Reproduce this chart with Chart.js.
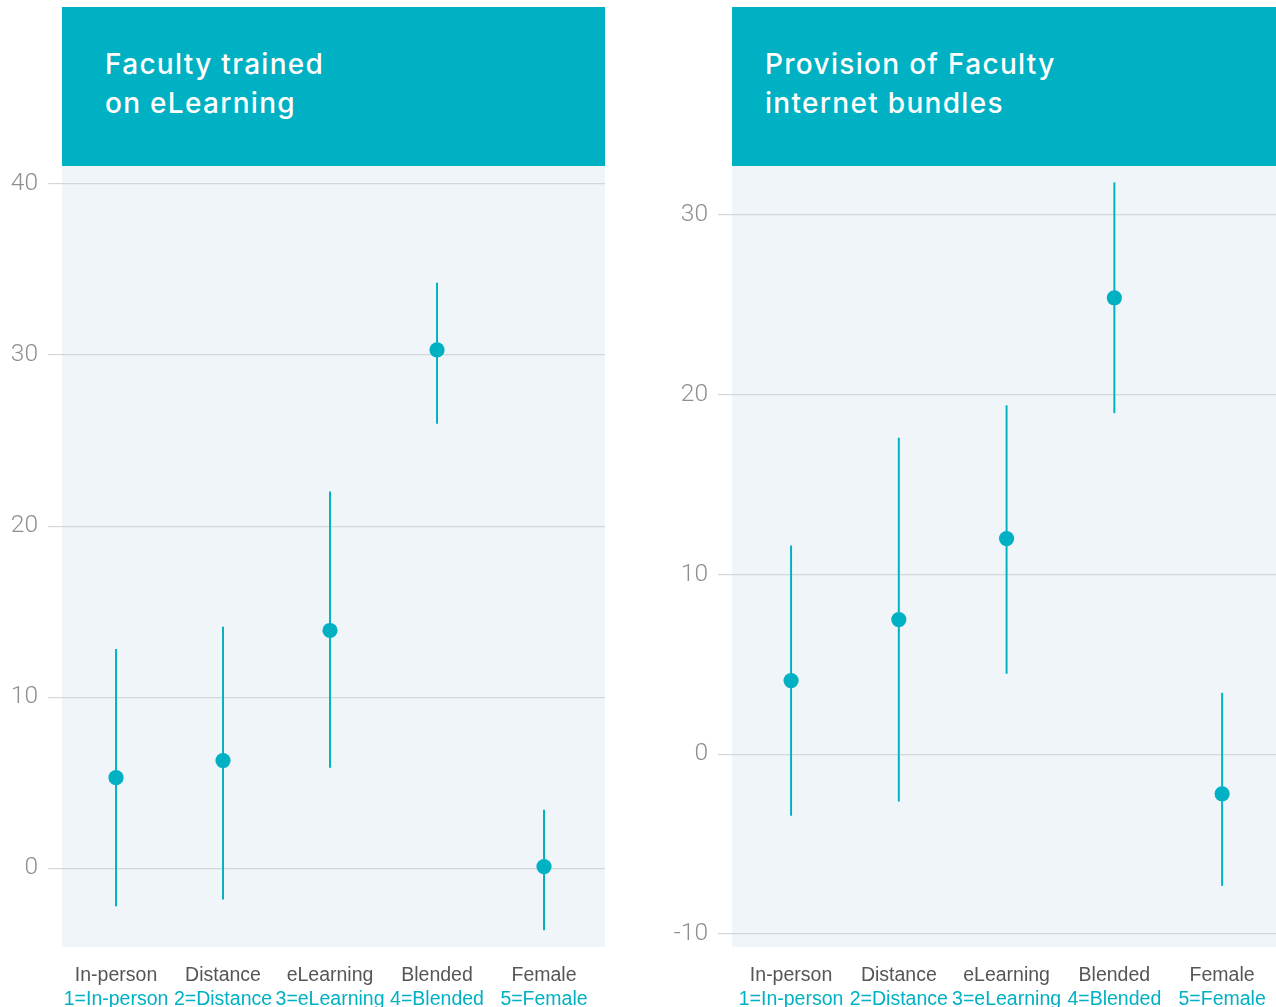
<!DOCTYPE html>
<html>
<head>
<meta charset="utf-8">
<title>Faculty eLearning estimates</title>
<script src="https://cdn.jsdelivr.net/npm/chart.js@4.4.1/dist/chart.umd.min.js"></script>
<style>
  body { margin: 0; background: #fff; width: 1276px; height: 1007px; position: relative; overflow: hidden; }
  .head {
    position: absolute; top: 7px; height: 159px; background: #00b0c3; color: #fff;
    font-family: Inter, "Liberation Sans", sans-serif; font-weight: 500; font-size: 28px;
    line-height: 39px; box-sizing: border-box; padding-top: 38px; letter-spacing: 1.3px;
  }
  canvas { position: absolute; top: 166px; }
</style>
</head>
<body>
<div class="head" style="left:62px;width:543px;padding-left:43px">Faculty trained<br>on eLearning</div>
<div class="head" style="left:732px;width:544px;padding-left:33px">Provision of Faculty<br>internet bundles</div>
<canvas id="chartTrained" width="605" height="850" style="left:0"></canvas>
<canvas id="chartBundles" width="606" height="850" style="left:670px"></canvas>
<script>
// categories and labels
const categories = ['In-person', 'Distance', 'eLearning', 'Blended', 'Female'];
const codeLabels = ['1=In-person', '2=Distance', '3=eLearning', '4=Blended', '5=Female'];
const positions = [1, 2, 3, 4, 5];

// faculty trained on eLearning: estimate + interval
const trainedEst  = [5.3, 6.3, 13.9, 30.3, 0.1];
const trainedLow  = [-2.2, -1.8, 5.9, 26.0, -3.6];
const trainedHigh = [12.8, 14.1, 22.0, 34.2, 3.4];
const trainedTicks = [0, 10, 20, 30, 40];

// provision of faculty internet bundles
const bundlesEst  = [4.1, 7.5, 12.0, 25.4, -2.2];
const bundlesLow  = [-3.4, -2.6, 4.5, 19.0, -7.3];
const bundlesHigh = [11.6, 17.6, 19.4, 31.8, 3.4];
const bundlesTicks = [-10, 0, 10, 20, 30];

const TEAL = '#00b0c3';

// light panel behind the plot
const plotBg = {
  id: 'plotBg',
  beforeDraw(chart) {
    const a = chart.chartArea, ctx = chart.ctx;
    ctx.save();
    ctx.fillStyle = '#eff5f9';
    ctx.fillRect(a.left, a.top, a.right - a.left, a.bottom - a.top);
    ctx.restore();
  }
};

function labelAxis(labels, weight, height, padding, lineHeight, color, xMin, xMax) {
  return {
    type: 'linear', position: 'bottom', weight: weight, offset: false,
    min: xMin, max: xMax,
    afterBuildTicks: s => { s.ticks = positions.map(v => ({ value: v })); },
    afterFit: s => { s.height = height; s.paddingLeft = 0; s.paddingRight = 0; },
    grid: { display: false, drawTicks: false, offset: false },
    border: { display: false },
    ticks: {
      padding: padding, maxRotation: 0, autoSkip: false, color: color,
      callback: v => labels[v - 1],
      font: { family: 'Liberation Sans', size: 19.5, lineHeight: lineHeight }
    }
  };
}

function makeChart(id, est, low, high, ticks, yMin, yMax, xMin, xMax) {
  new Chart(document.getElementById(id), {
    type: 'bar',
    data: {
      datasets: [
        {
          type: 'line',
          data: positions.map((p, i) => ({ x: p, y: est[i] })),
          showLine: false,
          pointRadius: 7.6,
          pointHoverRadius: 7.6,
          pointBackgroundColor: TEAL,
          pointBorderWidth: 0,
          order: 0
        },
        {
          type: 'bar',
          data: positions.map((p, i) => ({ x: p, y: [low[i], high[i]] })),
          backgroundColor: TEAL,
          barThickness: 1.3,
          order: 1
        }
      ]
    },
    options: {
      responsive: false,
      animation: false,
      layout: { padding: 0, autoPadding: false },
      plugins: { legend: { display: false }, tooltip: { enabled: false } },
      scales: {
        y: {
          min: yMin, max: yMax,
          afterBuildTicks: s => { s.ticks = ticks.map(v => ({ value: v })); },
          afterFit: s => { s.width = 62; s.paddingTop = 0; s.paddingBottom = 0; },
          grid: { color: '#d4d7da', lineWidth: 1.2, tickLength: 14 },
          border: { display: false },
          ticks: {
            padding: 10, color: '#8f8f8f',
            font: { family: 'Roboto', weight: 300, size: 24.5 }
          }
        },
        x: labelAxis(categories, 0, 39, 17, 1.2, '#555658', xMin, xMax),
        x2: labelAxis(codeLabels, 1, 30, 4, 1, TEAL, xMin, xMax)
      }
    },
    plugins: [plotBg]
  });
}

makeChart('chartTrained', trainedEst, trainedLow, trainedHigh, trainedTicks, -4.6, 41.05, 0.495, 5.57);
makeChart('chartBundles', bundlesEst, bundlesLow, bundlesHigh, bundlesTicks, -10.72, 32.73, 0.452, 5.5);
</script>
</body>
</html>
